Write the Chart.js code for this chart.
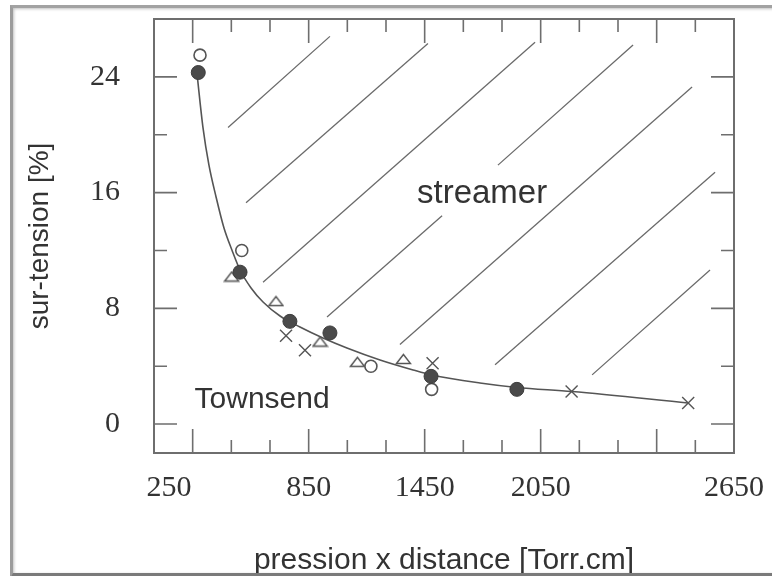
<!DOCTYPE html>
<html>
<head>
<meta charset="utf-8">
<script src="https://cdn.jsdelivr.net/npm/chart.js@4.4.1/dist/chart.umd.min.js"></script>
<style>
  html, body { margin: 0; padding: 0; background: #fff; }
  #wrap { position: relative; width: 772px; height: 576px; overflow: hidden; }
  #frame {
    position: absolute; left: 10px; top: 5px; width: 770px; height: 565px;
    border-left: 3px solid #9c9c9c; border-top: 3px solid #a2a2a2; border-bottom: 6px solid #7a7a7a;
    box-shadow: inset 1px 1px 3px rgba(0, 0, 0, 0.25);
    filter: blur(0.6px); pointer-events: none;
  }
</style>
</head>
<body>
<div id="wrap">
  <canvas id="chart" width="772" height="576"></canvas>
  <div id="frame"></div>
</div>
<script>
// measured points (pression x distance, sur-tension %)
const filledX = [279, 495, 753, 960, 1483, 1927];
const filledY = [24.3, 10.5, 7.1, 6.3, 3.3, 2.4];
const openX = [288, 504, 1172, 1486];
const openY = [25.5, 12.0, 4.0, 2.4];
const triX = [452, 681, 909, 1102, 1340];
const triY = [10.2, 8.5, 5.7, 4.3, 4.5];
const crossX = [733, 831, 1491, 2210, 2813];
const crossY = [6.1, 5.1, 4.2, 2.25, 1.45];

// the fitted curve
const curveX = [272, 303, 334, 371, 412, 453, 495, 552, 614, 702, 805, 924, 1048, 1219, 1390, 1488, 1736, 1928, 2212, 2812];
const curveY = [24.27, 20.53, 17.91, 15.7, 13.55, 12.03, 10.65, 9.41, 8.44, 7.47, 6.71, 5.95, 5.26, 4.43, 3.74, 3.39, 2.84, 2.53, 2.25, 1.46];

// hatching of the streamer region, segment ends [x, y]
const hatchFrom = [[433, 20.5], [526, 15.3], [614, 9.8], [945, 7.4], [1829, 17.9], [1322, 5.5], [1814, 4.1], [2316, 3.4]];
const hatchTo = [[960, 26.8], [1467, 26.3], [2021, 26.4], [1540, 14.4], [2528, 26.2], [2833, 23.3], [2952, 17.4], [2926, 10.65]];

// axes
const xTicks = [250, 450, 650, 850, 1050, 1250, 1450, 1650, 1850, 2050, 2250, 2450, 2650, 2850];
const xMajor = [250, 850, 1450, 2050, 2650];
const xTickLabels = ['250', '850', '1450', '2050', '2650'];
const xLabelAt = [128, 850, 1450, 2050, 3050]; // where the figure prints them (end ones are off their ticks)
const yTicks = [0, 4, 8, 12, 16, 20, 24];
const yTickLabels = [0, 8, 16, 24];

const notes = [
  { text: 'streamer', x: 1747, y: 15.3, size: 33 },
  { text: 'Townsend', x: 609, y: 1.11, size: 30 }
];

const pts = (xs, ys) => xs.map((x, i) => ({ x, y: ys[i] }));

// squat open triangle marker
const tri = document.createElement('canvas');
tri.width = 17; tri.height = 12;
const tc = tri.getContext('2d');
tc.beginPath();
tc.moveTo(1.5, 10.5); tc.lineTo(8.5, 1.5); tc.lineTo(15.5, 10.5); tc.closePath();
tc.fillStyle = '#fff'; tc.fill();
tc.strokeStyle = '#555'; tc.lineWidth = 1.4; tc.stroke();

const frameTicks = {
  id: 'frameTicks',
  beforeDatasetsDraw(chart) {
    const { ctx, chartArea: a, scales: { x, y } } = chart;
    ctx.save();
    ctx.strokeStyle = '#6e6e6e';
    ctx.lineWidth = 1.6;
    ctx.beginPath();
    xTicks.forEach(v => {
      const px = x.getPixelForValue(v);
      const len = xMajor.includes(v) ? 24 : 13;
      ctx.moveTo(px, a.bottom); ctx.lineTo(px, a.bottom - len);
      ctx.moveTo(px, a.top); ctx.lineTo(px, a.top + len);
    });
    yTicks.forEach(v => {
      const py = y.getPixelForValue(v);
      const len = yTickLabels.includes(v) ? 23 : 13;
      ctx.moveTo(a.left, py); ctx.lineTo(a.left + len, py);
      ctx.moveTo(a.right, py); ctx.lineTo(a.right - len, py);
    });
    ctx.stroke();
    ctx.lineWidth = 2;
    ctx.strokeRect(a.left, a.top, a.right - a.left, a.bottom - a.top);
    ctx.restore();
  },
  afterDatasetsDraw(chart) {
    const { ctx, scales: { x, y } } = chart;
    ctx.save();
    ctx.fillStyle = '#333';
    ctx.textAlign = 'center';
    ctx.textBaseline = 'alphabetic';
    notes.forEach(n => {
      ctx.font = n.size + 'px "Liberation Sans", Arial, sans-serif';
      ctx.fillText(n.text, x.getPixelForValue(n.x), y.getPixelForValue(n.y));
    });
    ctx.restore();
  }
};

const datasets = [
  {
    data: pts(filledX, filledY), pointStyle: 'circle', pointRadius: 7,
    pointBackgroundColor: '#4a4a4a', pointBorderColor: '#3c3c3c', pointBorderWidth: 1
  },
  {
    data: pts(openX, openY), pointStyle: 'circle', pointRadius: 6,
    pointBackgroundColor: '#fff', pointBorderColor: '#555', pointBorderWidth: 1.6
  },
  { data: pts(triX, triY), pointStyle: tri, pointRadius: 7 },
  {
    data: pts(crossX, crossY), pointStyle: 'crossRot', pointRadius: 8.5,
    pointBorderColor: '#555', pointBorderWidth: 1.4
  },
  {
    data: pts(curveX, curveY), showLine: true, pointRadius: 0,
    borderColor: '#555', borderWidth: 1.6, cubicInterpolationMode: 'monotone'
  },
  ...hatchFrom.map((p, i) => ({
    data: [{ x: p[0], y: p[1] }, { x: hatchTo[i][0], y: hatchTo[i][1] }],
    showLine: true, pointRadius: 0, borderColor: '#6a6a6a', borderWidth: 1.3
  }))
];

new Chart(document.getElementById('chart'), {
  type: 'scatter',
  data: { datasets },
  options: {
    responsive: false,
    animation: false,
    layout: { padding: { top: 19, right: 38, bottom: 0, left: 0 } },
    plugins: { legend: { display: false }, tooltip: { enabled: false } },
    scales: {
      x: {
        type: 'linear', min: 50, max: 3050,
        grid: { display: false, drawTicks: false },
        border: { display: false },
        afterBuildTicks: s => { s.ticks = xLabelAt.map(v => ({ value: v })); },
        afterFit: s => { s.height = 123; s.paddingLeft = 0; s.paddingRight = 0; },
        ticks: {
          autoSkip: false, maxRotation: 0, padding: 17, color: '#333',
          font: { family: '"Liberation Serif", "Times New Roman", serif', size: 30 },
          callback: (v, i) => xTickLabels[i]
        },
        title: {
          display: true, text: 'pression x distance [Torr.cm]', color: '#333', padding: 0,
          font: { family: '"Liberation Sans", Arial, sans-serif', size: 30, lineHeight: 1 }
        }
      },
      y: {
        type: 'linear', min: -2, max: 28,
        grid: { display: false, drawTicks: false },
        border: { display: false },
        afterBuildTicks: s => { s.ticks = yTickLabels.map(v => ({ value: v })); },
        afterFit: s => { s.width = 154; s.paddingTop = 0; s.paddingBottom = 0; },
        ticks: {
          padding: 34, color: '#333',
          font: { family: '"Liberation Serif", "Times New Roman", serif', size: 30 }
        },
        title: {
          display: true, text: 'sur-tension [%]', color: '#333', padding: { top: 23, bottom: 0 },
          font: { family: '"Liberation Sans", Arial, sans-serif', size: 28, lineHeight: 1.2 }
        }
      }
    }
  },
  plugins: [frameTicks]
});
</script>
</body>
</html>
